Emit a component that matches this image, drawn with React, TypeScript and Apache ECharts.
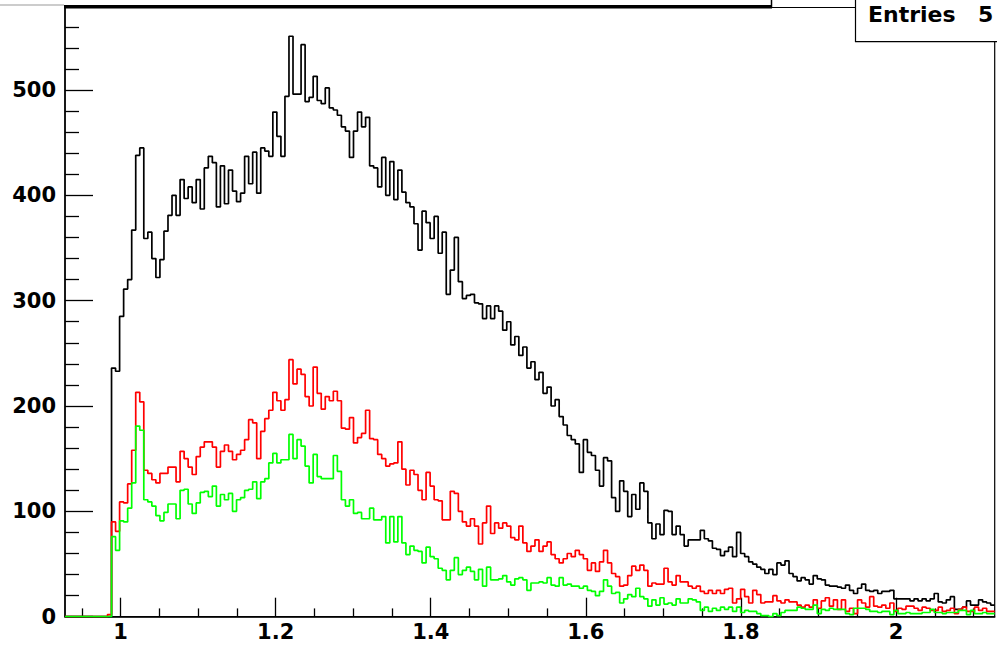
import React, { useEffect, useRef } from "react";
import * as echarts from "echarts";

// Histogram binning (low edge of the first stored bin and the bin width, in x units)
const BIN_START = 0.9832;
const BIN_WIDTH = 0.0052;
const X_MIN = 0.9284;
const X_MAX = 2.1272;
const Y_MIN = 0;
const Y_MAX = 578.3;

const X_TICKS = [1, 1.2, 1.4, 1.6, 1.8, 2];
const X_TICK_LABELS = ["1", "1.2", "1.4", "1.6", "1.8", "2"];
const X_MINOR_TICKS = [0.95, 1.05, 1.1, 1.15, 1.25, 1.3, 1.35, 1.45, 1.5, 1.55, 1.65, 1.7, 1.75, 1.85, 1.9, 1.95, 2.05, 2.1];
const Y_TICKS = [0, 100, 200, 300, 400, 500];
const Y_MINOR_TICKS = [20, 40, 60, 80, 120, 140, 160, 180, 220, 240, 260, 280, 320, 340, 360, 380, 420, 440, 460, 480, 520, 540, 560];

// bin contents (black = all, red, green)
const blackCounts = [
  0,
  236, 233, 285, 311, 320, 367, 438, 445, 359, 365,
  340, 322, 339, 366, 381, 400, 381, 415, 397, 408,
  393, 415, 387, 426, 437, 431, 389, 428, 392, 424,
  404, 394, 402, 437, 411, 441, 402, 445, 442, 437,
  479, 456, 437, 494, 551, 496, 496, 543, 489, 493,
  513, 490, 487, 502, 483, 481, 476, 465, 461, 436,
  461, 479, 465, 474, 428, 426, 408, 436, 400, 432,
  396, 424, 403, 393, 389, 373, 348, 385, 374, 359,
  380, 345, 365, 306, 329, 360, 318, 302, 305, 306,
  298, 297, 283, 295, 283, 295, 290, 272, 280, 258,
  266, 248, 256, 236, 242, 225, 232, 212, 218, 200,
  206, 190, 182, 172, 168, 164, 137, 168, 156, 153,
  139, 124, 151, 148, 113, 100, 129, 119, 95, 116,
  102, 127, 119, 89, 74, 88, 78, 101, 100, 78,
  86, 78, 67, 73, 73, 73, 82, 74, 72, 65,
  64, 58, 62, 66, 57, 80, 60, 57, 52, 50,
  47, 45, 41, 45, 40, 51, 49, 53, 41, 38,
  34, 37, 35, 31, 39, 36, 35, 30, 29, 29,
  28, 27, 30, 25, 22, 27, 31, 25, 24, 25,
  22, 24, 24, 25, 17, 17, 17, 17, 15, 17,
  15, 17, 15, 17, 22, 14, 13, 16, 19, 7,
  7, 9, 15, 11, 11, 16, 14, 13, 11,
];

const redCounts = [
  2,
  90, 81, 109, 108, 126, 158, 213, 204, 139, 136,
  130, 127, 136, 136, 142, 142, 128, 157, 150, 142,
  135, 152, 161, 166, 166, 161, 142, 157, 163, 157,
  149, 154, 158, 168, 187, 184, 150, 176, 188, 196,
  213, 205, 196, 206, 244, 221, 235, 230, 209, 200,
  237, 212, 197, 209, 205, 214, 205, 179, 178, 189,
  165, 170, 174, 196, 169, 168, 154, 150, 143, 145,
  146, 166, 140, 125, 139, 135, 120, 111, 137, 124,
  111, 110, 92, 92, 119, 117, 100, 90, 86, 93,
  86, 69, 89, 105, 79, 89, 84, 89, 86, 75,
  73, 86, 70, 62, 67, 73, 62, 67, 71, 59,
  55, 51, 55, 60, 57, 63, 59, 55, 44, 51,
  43, 52, 63, 51, 41, 38, 29, 30, 39, 48,
  44, 49, 44, 29, 32, 31, 31, 46, 33, 30,
  39, 33, 33, 29, 27, 29, 24, 22, 25, 22,
  25, 22, 26, 27, 13, 17, 26, 19, 13, 25,
  21, 13, 14, 14, 20, 15, 13, 16, 14, 14,
  11, 9, 11, 9, 16, 8, 15, 18, 10, 16,
  7, 16, 5, 8, 3, 16, 13, 9, 19, 10,
  9, 11, 8, 13, 5, 8, 7, 10, 10, 8,
  6, 9, 8, 6, 6, 9, 5, 6, 8, 3,
  7, 9, 5, 5, 9, 6, 8, 5, 5,
];

const greenCounts = [
  0,
  76, 63, 91, 90, 103, 127, 181, 177, 111, 109,
  105, 96, 91, 99, 107, 107, 93, 120, 121, 107,
  98, 108, 118, 119, 114, 124, 105, 116, 111, 117,
  100, 111, 113, 120, 121, 128, 112, 128, 131, 146,
  155, 146, 149, 149, 173, 150, 168, 162, 143, 127,
  154, 133, 131, 131, 131, 153, 138, 111, 105, 111,
  98, 99, 93, 93, 103, 92, 92, 95, 70, 95,
  71, 95, 70, 59, 67, 63, 62, 51, 66, 57,
  55, 46, 44, 35, 44, 56, 40, 44, 47, 43,
  35, 45, 29, 47, 35, 35, 36, 39, 33, 30,
  36, 37, 35, 25, 32, 32, 33, 32, 37, 30,
  29, 37, 30, 31, 29, 29, 27, 29, 25, 24,
  20, 24, 35, 29, 22, 23, 13, 17, 21, 19,
  27, 19, 17, 10, 16, 11, 18, 12, 13, 11,
  17, 13, 13, 17, 16, 14, 6, 9, 5, 8,
  6, 9, 7, 9, 5, 9, 4, 6, 5, 5,
  3, 1, 1, 0, 3, 1, 4, 6, 6, 6,
  9, 8, 7, 7, 11, 3, 7, 6, 8, 7,
  7, 7, 3, 2, 8, 8, 8, 7, 5, 5,
  4, 5, 5, 2, 6, 3, 3, 4, 3, 3,
  3, 4, 4, 7, 4, 4, 3, 4, 4, 4,
  6, 6, 2, 6, 3, 3, 4, 3, 3,
];

function histPoints(values: number[]) {
  const pts: number[][] = [[X_MIN, 0]];
  values.forEach((v, i) => pts.push([BIN_START + i * BIN_WIDTH, v]));
  pts.push([BIN_START + values.length * BIN_WIDTH, values[values.length - 1]]);
  return pts;
}

const FONT = "DejaVu Sans";

function histSeries(name: string, values: number[], color: string, z: number) {
  return {
    name,
    type: "line",
    step: "end",
    data: histPoints(values),
    symbol: "none",
    showSymbol: false,
    clip: true,
    z,
    lineStyle: { color, width: 1.7 },
    itemStyle: { color },
    emphasis: { disabled: true },
  };
}

export default function App() {
  const ref = useRef<HTMLDivElement>(null);

  useEffect(() => {
    if (!ref.current) return;
    const chart = echarts.init(ref.current, null, { renderer: "svg" });
    const option: any = {
      animation: false,
      backgroundColor: "#ffffff",
      grid: {
        left: 65,
        top: 7.5,
        right: 2.3,
        bottom: 28.3,
        show: true,
        borderColor: "#000",
        borderWidth: 1.2,
        backgroundColor: "#ffffff",
        containLabel: false,
        outerBoundsMode: "none",
      },
      xAxis: [
        {
          type: "value",
          min: X_MIN,
          max: X_MAX,
          position: "bottom",
          axisLine: { show: true, onZero: false, lineStyle: { color: "#000", width: 1.5 } },
          axisTick: { show: true, inside: true, length: 19, customValues: X_TICKS, lineStyle: { color: "#000", width: 1.3 } },
          axisLabel: {
            show: true,
            customValues: X_TICKS,
            formatter: (v: number) => X_TICK_LABELS[X_TICKS.findIndex((t) => Math.abs(t - v) < 1e-6)] ?? "",
            fontFamily: FONT,
            fontWeight: "bold",
            fontSize: 21,
            color: "#000",
            margin: 5,
          },
          splitLine: { show: false },
        },
        {
          type: "value",
          min: X_MIN,
          max: X_MAX,
          position: "bottom",
          axisLine: { show: false },
          axisTick: { show: true, inside: true, length: 8.3, customValues: X_MINOR_TICKS, lineStyle: { color: "#000", width: 1.3 } },
          axisLabel: { show: false },
          splitLine: { show: false },
        },
      ],
      yAxis: [
        {
          type: "value",
          min: Y_MIN,
          max: Y_MAX,
          position: "left",
          axisLine: { show: true, onZero: false, lineStyle: { color: "#000", width: 1.5 } },
          axisTick: { show: true, inside: true, length: 28, customValues: Y_TICKS, lineStyle: { color: "#000", width: 1.3 } },
          axisLabel: {
            show: true,
            customValues: Y_TICKS,
            fontFamily: FONT,
            fontWeight: "bold",
            fontSize: 21,
            color: "#000",
            margin: 9,
          },
          splitLine: { show: false },
        },
        {
          type: "value",
          min: Y_MIN,
          max: Y_MAX,
          position: "left",
          axisLine: { show: false },
          axisTick: { show: true, inside: true, length: 14, customValues: Y_MINOR_TICKS, lineStyle: { color: "#000", width: 1.3 } },
          axisLabel: { show: false },
          splitLine: { show: false },
        },
      ],
      series: [
        histSeries("all", blackCounts, "#000000", 2),
        histSeries("red", redCounts, "#ff0000", 3),
        histSeries("green", greenCounts, "#00ff00", 4),
      ],
      graphic: [
        { type: "line", z: 50, shape: { x1: 0, y1: 5, x2: 64, y2: 5 }, style: { stroke: "#999", lineWidth: 1 } },
        { type: "rect", z: 50, shape: { x: 64, y: 5, width: 708, height: 3.5 }, style: { fill: "#000" } },
        { type: "line", z: 50, shape: { x1: 771.5, y1: 0, x2: 771.5, y2: 8 }, style: { stroke: "#000", lineWidth: 1.5 } },
        { type: "rect", z: 100, shape: { x: 855.5, y: -2, width: 160, height: 43.7 }, style: { fill: "#fff", stroke: "#000", lineWidth: 1.2 } },
        {
          type: "text",
          z: 101,
          x: 868,
          y: 14.2,
          style: { text: "Entries", fontFamily: FONT, fontWeight: "bold", fontSize: 22, fill: "#000", verticalAlign: "middle", textVerticalAlign: "middle" },
        },
        {
          type: "text",
          z: 101,
          x: 978,
          y: 14.2,
          style: { text: "5", fontFamily: FONT, fontWeight: "bold", fontSize: 22, fill: "#000", verticalAlign: "middle", textVerticalAlign: "middle" },
        },
      ],
    };
    chart.setOption(option);
    return () => chart.dispose();
  }, []);

  return (
    <div
      ref={ref}
      style={{ position: "fixed", left: 0, top: 0, width: 997, height: 645, background: "#fff" }}
    />
  );
}
